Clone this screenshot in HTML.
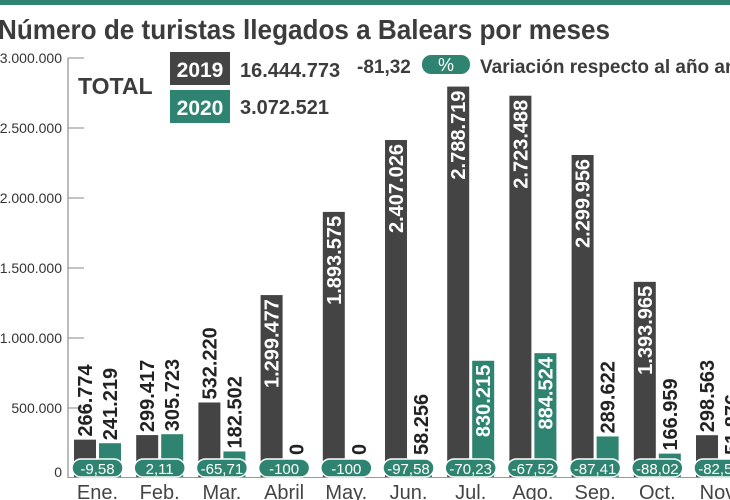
<!DOCTYPE html>
<html><head><meta charset="utf-8">
<style>
html,body{margin:0;padding:0;background:#fff;overflow:hidden}
svg{display:block;font-family:"Liberation Sans",sans-serif}
</style></head>
<body>
<svg id="s" width="730" height="500" viewBox="0 0 730 500" xmlns="http://www.w3.org/2000/svg">
<rect x="0" y="0" width="730" height="5" fill="#2e8470"/>
<text x="-2" y="39" font-size="28" font-weight="bold" fill="#3c3c3c" textLength="612" lengthAdjust="spacingAndGlyphs">Número de turistas llegados a Balears por meses</text>
<line x1="68" y1="58" x2="68" y2="478" stroke="#777" stroke-width="1"/>
<line x1="68" y1="477.5" x2="730" y2="477.5" stroke="#999" stroke-width="1"/>
<g font-size="14" fill="#333" text-anchor="end">
<text x="62" y="63">3.000.000</text>
<text x="62" y="133">2.500.000</text>
<text x="62" y="203">2.000.000</text>
<text x="62" y="273">1.500.000</text>
<text x="62" y="343">1.000.000</text>
<text x="62" y="413">500.000</text>
<text x="62" y="477">0</text>
</g>
<g stroke="#888" stroke-width="1">
<line x1="68" y1="58" x2="84" y2="58"/><line x1="68" y1="128" x2="84" y2="128"/>
<line x1="68" y1="198" x2="84" y2="198"/><line x1="68" y1="268" x2="84" y2="268"/>
<line x1="68" y1="338" x2="84" y2="338"/><line x1="68" y1="408" x2="84" y2="408"/>
</g>
<text x="78" y="94" font-size="23" font-weight="bold" fill="#3c3c3c">TOTAL</text>
<rect x="170" y="52" width="60" height="33" fill="#444"/>
<text x="200" y="77" font-size="21" font-weight="bold" fill="#fff" text-anchor="middle">2019</text>
<rect x="170" y="90" width="60" height="33" fill="#2e8470"/>
<text x="200" y="115" font-size="21" font-weight="bold" fill="#fff" text-anchor="middle">2020</text>
<text x="240" y="77" font-size="20" font-weight="bold" fill="#3c3c3c">16.444.773</text>
<text x="240" y="114" font-size="20" font-weight="bold" fill="#3c3c3c">3.072.521</text>
<text x="357" y="73" font-size="19" font-weight="bold" fill="#3c3c3c">-81,32</text>
<rect x="422" y="55" width="48" height="19" rx="9" fill="#2e8470"/>
<text x="446" y="71" font-size="18" fill="#fff" text-anchor="middle">%</text>
<text x="480" y="73" font-size="19" font-weight="bold" fill="#3c3c3c">Variación respecto al año anterior</text>
<g id="g"></g>
</svg>
<script>
var d=[["Ene.",266774,241219,"-9,58"],["Feb.",299417,305723,"2,11"],["Mar.",532220,182502,"-65,71"],["Abril",1299477,0,"-100"],["May.",1893575,0,"-100"],["Jun.",2407026,58256,"-97,58"],["Jul.",2788719,830215,"-70,23"],["Ago.",2723488,884524,"-67,52"],["Sep.",2299956,289622,"-87,41"],["Oct.",1393965,166959,"-88,02"],["Nov.",298563,51876,"-82,59"]];
function f(v){return v.toString().replace(/\B(?=(\d{3})+(?!\d))/g,".");}
var h="",B=477;
d.forEach(function(r,i){
 var x=74+62.2*i;
 [[r[1],x,"#444"],[r[2],x+25,"#2e8470"]].forEach(function(b){
  var hh=b[0]/3e6*420, top=B-hh, cx=b[1]+11;
  if(hh>0)h+='<rect x="'+b[1]+'" y="'+top+'" width="22" height="'+hh+'" fill="'+b[2]+'"/>';
  var s=f(b[0]), tw=s.length*10.5;
  if(hh>tw+30){h+='<text transform="translate('+(cx+7)+','+(top+4)+') rotate(-90)" font-size="20" font-weight="bold" fill="#fff" text-anchor="end">'+s+'</text>';}
  else{h+='<text transform="translate('+(cx+7)+','+Math.min(top-3,455)+') rotate(-90)" font-size="20" font-weight="bold" fill="#222">'+s+'</text>';}
 });
 h+='<rect x="'+(x-2)+'" y="459" width="51" height="18" rx="9" fill="#2e8470" stroke="#fff" stroke-width="1.5"/>';
 h+='<text x="'+(x+23.5)+'" y="474" font-size="15" fill="#fff" text-anchor="middle">'+r[3]+'</text>';
 h+='<text x="'+(x+23.5)+'" y="499" font-size="20" fill="#444" text-anchor="middle">'+r[0]+'</text>';
});
document.getElementById("g").innerHTML=h;
</script>
</body></html>
